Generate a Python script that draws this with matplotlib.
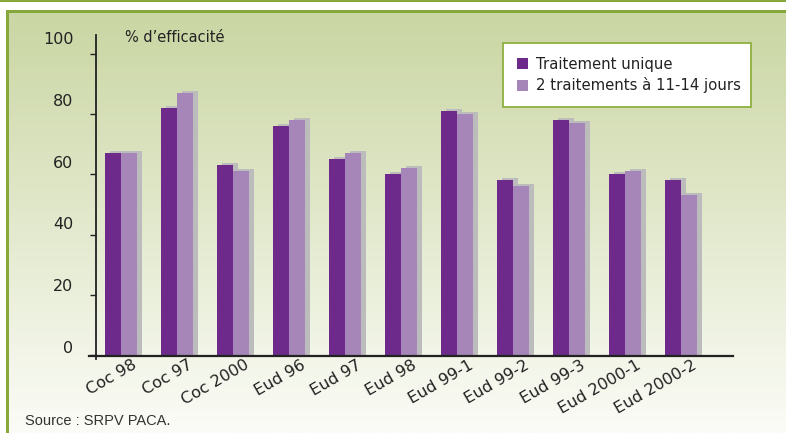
import numpy as np
import matplotlib
matplotlib.use("Agg")
import matplotlib.pyplot as plt
from matplotlib.patches import Rectangle
from matplotlib.lines import Line2D
import matplotlib.transforms as mtransforms

categories = ["Coc 98", "Coc 97", "Coc 2000", "Eud 96", "Eud 97", "Eud 98",
              "Eud 99-1", "Eud 99-2", "Eud 99-3", "Eud 2000-1", "Eud 2000-2"]
traitement_unique = [67, 82, 63, 76, 65, 60, 81, 58, 78, 60, 58]
deux_traitements = [67, 87, 61, 78, 67, 62, 80, 56, 77, 61, 53]
yticks = [0, 20, 40, 60, 80, 100]
series_labels = ["Traitement unique", "2 traitements à 11-14 jours"]

W, H = 786, 433
DPI = 100
fig = plt.figure(figsize=(W / DPI, H / DPI), dpi=DPI)
fig.patch.set_facecolor("white")

def fx(x):
    return x / W

def fy(y):
    return 1 - y / H

GREEN = "#86a83a"
DARK = "#6e2a8a"
LIGHT = "#a686b8"
SHADOW = "#bcbcbc"

# background gradient panel
bg = fig.add_axes([0, 0, 1, 1], zorder=-10)
bg.set_xlim(0, W)
bg.set_ylim(H, 0)
bg.axis("off")
top_c = np.array([0xca, 0xd6, 0xa3]) / 255
bot_c = np.array([0xfb, 0xfc, 0xf7]) / 255
t = np.linspace(0, 1, 256)[:, None]
grad = top_c[None, :] * (1 - t) + bot_c[None, :] * t
grad = np.repeat(grad[:, None, :], 2, axis=1)
bg.imshow(grad, extent=[7, W, H, 12], aspect="auto", zorder=0)
bg.add_patch(Rectangle((0, 0), W, 2.2, color=GREEN, lw=0, zorder=1))
bg.add_patch(Rectangle((6, 10), W - 6, 3, color=GREEN, lw=0, zorder=1))
bg.add_patch(Rectangle((6, 10), 3, H - 10, color=GREEN, lw=0, zorder=1))

# main axes
L, R, T, B = 96, 733, 35, 355
ax = fig.add_axes([fx(L), fy(B), (R - L) / W, (B - T) / H])
ax.patch.set_alpha(0)
px_per_unit_x = 56.0
x0 = (L - 121) / px_per_unit_x
x1 = (R - 121) / px_per_unit_x
ax.set_xlim(x0, x1)
ymax = (B - T) / 3.01
ax.set_ylim(0, ymax)

x = np.arange(len(categories))
w = 0.28
dx_sh = 5 / px_per_unit_x
dy_sh = 2 / 3.01
for vals, off in ((traitement_unique, -w / 2), (deux_traitements, w / 2)):
    ax.bar(x + off + dx_sh, np.array(vals) + dy_sh, width=w, color=SHADOW, zorder=1)
ax.bar(x - w / 2, traitement_unique, width=w, color=DARK, zorder=2, label=series_labels[0])
ax.bar(x + w / 2, deux_traitements, width=w, color=LIGHT, zorder=3, label=series_labels[1])

for s in ["top", "right"]:
    ax.spines[s].set_visible(False)
ax.spines["left"].set_color("#222222")
ax.spines["left"].set_linewidth(1.3)
ax.spines["bottom"].set_visible(False)
# x axis line extending slightly left of y axis
fig.add_artist(Line2D([fx(89), fx(733)], [fy(355.5), fy(355.5)], color="#222222", lw=1.6))
fig.add_artist(Line2D([fx(96), fx(96)], [fy(355), fy(359)], color="#222222", lw=1.3))

ax.set_yticks(yticks)
ax.set_yticklabels([str(v) for v in yticks])
ax.tick_params(axis="y", direction="out", length=4.3, width=1.0, color="#222222",
               pad=12, labelsize=11.5, labelcolor="#222222")
for v, lab in zip(yticks, ax.get_yticklabels()):
    off = 8 + v * 0.08
    lab.set_transform(lab.get_transform() + mtransforms.ScaledTranslation(0, off / DPI, fig.dpi_scale_trans))

ax.set_xticks(x)
ax.set_xticklabels(categories, rotation=30, ha="right", va="top", rotation_mode="anchor")
ax.tick_params(axis="x", length=0, pad=1, labelsize=11.5, labelcolor="#222222")
for lab in ax.get_xticklabels():
    lab.set_transform(lab.get_transform() + mtransforms.ScaledTranslation(11 / DPI, -1 / DPI, fig.dpi_scale_trans))

fig.text(fx(125), fy(37), "% d\u2019efficacité", fontsize=10.5, color="#222222", va="center", ha="left")

hh = 0.01
leg = ax.legend(loc="upper left", bbox_to_anchor=(fx(503), fy(43) - hh, 248 / W, hh),
                bbox_transform=fig.transFigure, mode="expand",
                frameon=True, fancybox=False, fontsize=10.7, handlelength=0.75, handleheight=0.75,
                handletextpad=0.55, labelspacing=0.35, borderpad=0.95, borderaxespad=0)
leg.get_frame().set_edgecolor("#8fb03e")
leg.get_frame().set_linewidth(1.3)
leg.get_frame().set_facecolor("white")
leg.get_frame().set_alpha(1)
for txt in leg.get_texts():
    txt.set_color("#222222")

fig.text(fx(25), fy(421), "Source : SRPV PACA.", fontsize=10.5, color="#333333", va="center", ha="left",
         family=["Liberation Sans Narrow", "Liberation Sans", "DejaVu Sans"])

fig.savefig("out.png", dpi=DPI)
